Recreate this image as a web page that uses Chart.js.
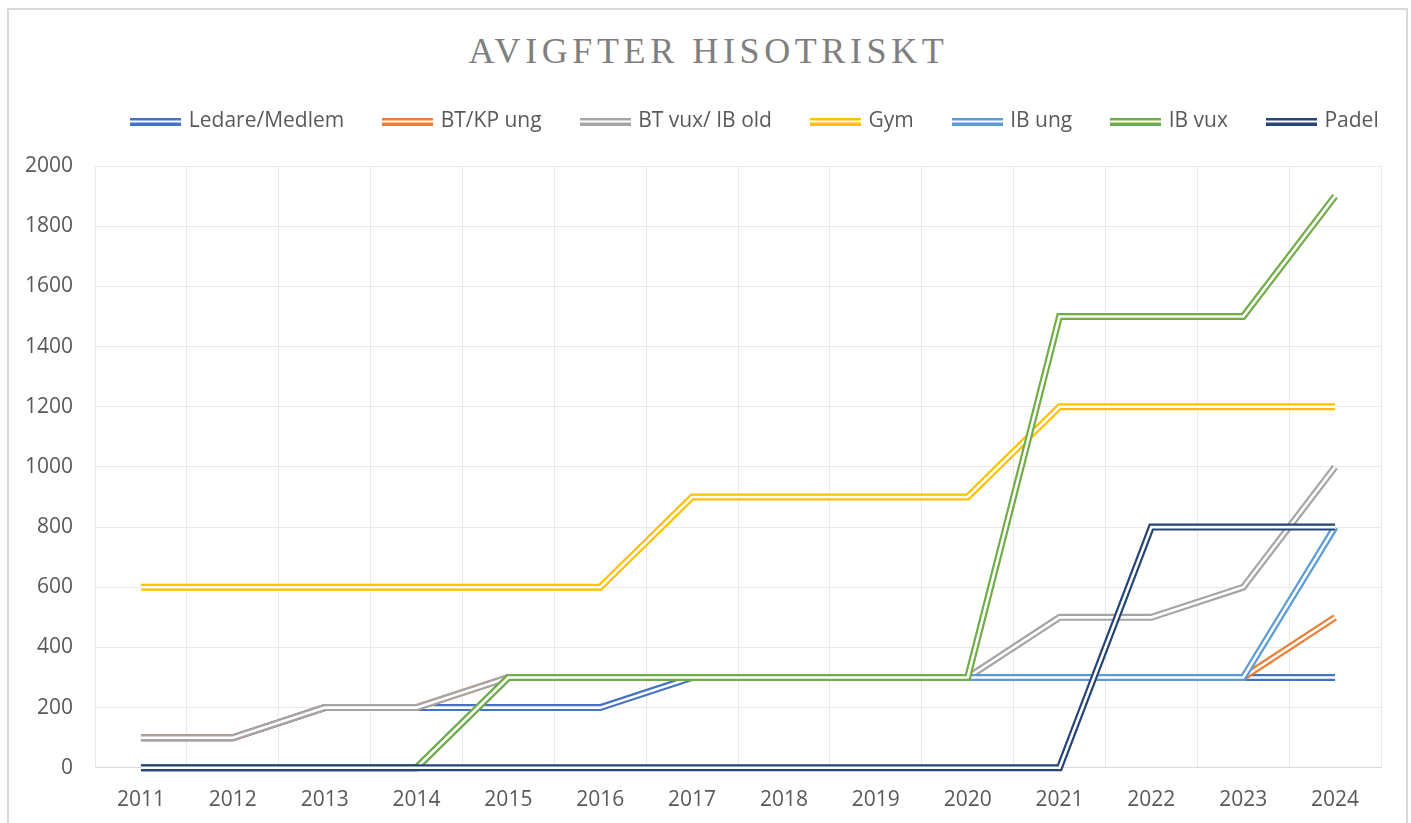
<!DOCTYPE html>
<html>
<head>
<meta charset="utf-8">
<script src="https://cdn.jsdelivr.net/npm/chart.js@4"></script>
<style>
  html, body { margin: 0; padding: 0; background: #fff; }
  body { width: 1411px; height: 823px; position: relative; overflow: hidden; }
  #frame { position: absolute; left: 7px; top: 8px; width: 1401px; height: 840px; border: 2px solid #d9d9d9; box-sizing: border-box; }
  #title { position: absolute; left: 3px; width: 1411px; top: 30px; text-align: center;
    font-family: "Liberation Serif", "DejaVu Serif", serif; font-size: 36px; letter-spacing: 4.6px; color: #7f7f7f; }
  #wrap { position: absolute; left: 0; top: 0; width: 1411px; height: 833px; }
</style>
</head>
<body>
<div id="frame"></div>
<div id="title">AVIGFTER HISOTRISKT</div>
<div id="wrap"><canvas id="chart"></canvas></div>
<script>
var years = ["2011", "2012", "2013", "2014", "2015", "2016", "2017", "2018", "2019", "2020", "2021", "2022", "2023", "2024"];

var ledare = [100, 100, 200, 200, 200, 200, 300, 300, 300, 300, 300, 300, 300, 300];
var btKpUng = [100, 100, 200, 200, 300, 300, 300, 300, 300, 300, 300, 300, 300, 500];
var btVux = [100, 100, 200, 200, 300, 300, 300, 300, 300, 300, 500, 500, 600, 1000];
var gym = [600, 600, 600, 600, 600, 600, 900, 900, 900, 900, 1200, 1200, 1200, 1200];
var ibUng = [0, 0, 0, 0, 300, 300, 300, 300, 300, 300, 300, 300, 300, 800];
var ibVux = [0, 0, 0, 0, 300, 300, 300, 300, 300, 300, 1500, 1500, 1500, 1900];
var padel = [0, 0, 0, 0, 0, 0, 0, 0, 0, 0, 0, 800, 800, 800];

var seriesNames = ["Ledare/Medlem", "BT/KP ung", "BT vux/ IB old", "Gym", "IB ung", "IB vux", "Padel"];
var seriesData = [ledare, btKpUng, btVux, gym, ibUng, ibVux, padel];
var seriesColors = ["#4472C4", "#ED7D31", "#A5A5A5", "#FFC000", "#5B9BD5", "#70AD47", "#264478"];

var LINE_W = 7;
var GAP_W = 2.6;
var FONT = "'Open Sans', sans-serif";

// small double-line swatch for the legend
function swatch(color) {
  var c = document.createElement("canvas");
  c.width = 51;
  c.height = 8;
  var g = c.getContext("2d");
  g.fillStyle = color;
  g.fillRect(0, 0, 51, 8);
  g.fillStyle = "#fff";
  g.fillRect(0, 3, 51, 2);
  return c;
}

// white stroke down the middle of each line, Excel "double" style
var doubleLine = {
  id: "doubleLine",
  afterDatasetDraw: function (chart, args) {
    var pts = args.meta.data;
    var ctx = chart.ctx;
    var a = chart.chartArea;
    ctx.save();
    ctx.beginPath();
    ctx.rect(a.left, a.top - 10, a.right - a.left, a.bottom - a.top + 20);
    ctx.clip();
    ctx.beginPath();
    for (var i = 0; i < pts.length; i++) {
      if (i === 0) ctx.moveTo(pts[i].x, pts[i].y);
      else ctx.lineTo(pts[i].x, pts[i].y);
    }
    ctx.strokeStyle = "#fff";
    ctx.lineWidth = GAP_W;
    ctx.lineJoin = "miter";
    ctx.stroke();
    ctx.restore();
  }
};

// extra room under the legend, and nudge it right like the original
var legendSpace = {
  id: "legendSpace",
  beforeInit: function (chart) {
    var fit = chart.legend.fit;
    chart.legend.fit = function () {
      fit.call(this);
      this.height += 24;
    };
  },
  afterLayout: function (chart) {
    chart.legend.left += 64;
    chart.legend.right += 64;
  }
};

var datasets = seriesNames.map(function (name, i) {
  return {
    label: name,
    data: seriesData[i],
    borderColor: seriesColors[i],
    backgroundColor: seriesColors[i],
    borderWidth: LINE_W,
    borderJoinStyle: "miter",
    pointRadius: 0,
    pointHoverRadius: 0,
    pointStyle: swatch(seriesColors[i]),
    tension: 0,
    fill: false,
    clip: 10,
    order: -i
  };
});

new Chart(document.getElementById("chart"), {
  type: "line",
  data: { labels: years, datasets: datasets },
  plugins: [doubleLine, legendSpace],
  options: {
    responsive: true,
    maintainAspectRatio: false,
    animation: false,
    layout: { padding: { top: 70, left: 3, right: 30, bottom: 0 } },
    plugins: {
      title: { display: false },
      tooltip: { enabled: false },
      legend: {
        position: "top",
        labels: {
          usePointStyle: true,
          pointStyleWidth: 45,
          padding: 41,
          color: "#595959",
          font: { family: FONT, size: 21 },
          sort: function (a, b) { return a.datasetIndex - b.datasetIndex; }
        }
      }
    },
    scales: {
      x: {
        offset: true,
        grid: { color: "#e9e9e9", lineWidth: 1, drawTicks: false, offset: true },
        border: { color: "#d9d9d9", width: 1 },
        ticks: { color: "#595959", padding: 20, font: { family: FONT, size: 21 } }
      },
      y: {
        min: 0,
        max: 2000,
        grid: { color: "#e9e9e9", lineWidth: 1, drawTicks: false },
        border: { display: false },
        ticks: {
          stepSize: 200,
          color: "#595959",
          padding: 22,
          font: { family: FONT, size: 21 },
          callback: function (v) { return String(v); }
        }
      }
    }
  }
});
</script>
</body>
</html>
